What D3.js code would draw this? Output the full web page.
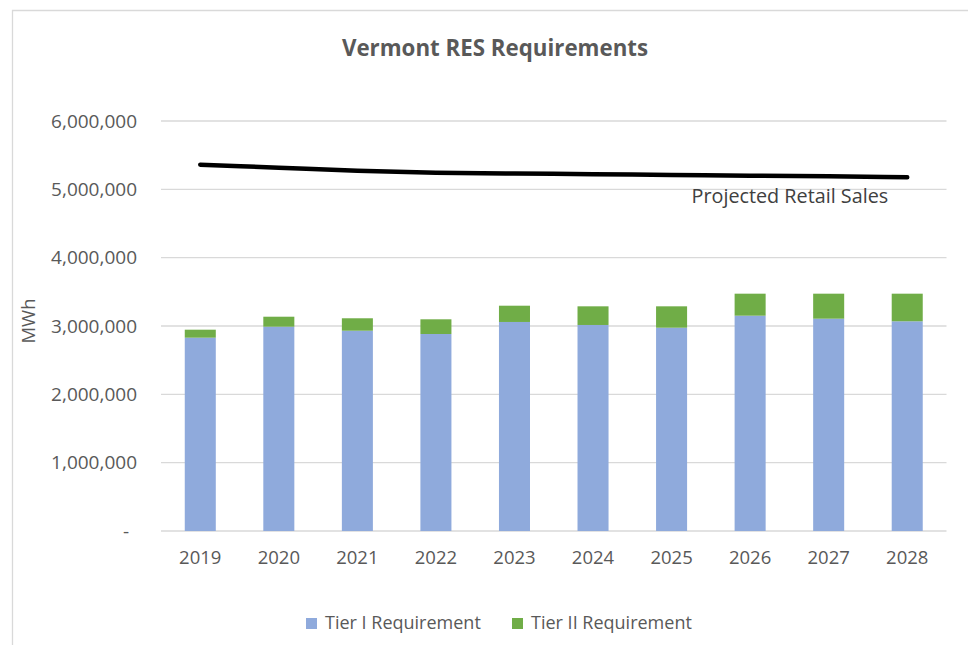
<!DOCTYPE html>
<html>
<head>
<meta charset="utf-8">
<script src="https://cdn.jsdelivr.net/npm/d3@7"></script>
<style>
  body { margin: 0; background: #fff; }
  text { font-family: "Open Sans", sans-serif; }
</style>
</head>
<body>
<svg id="chart" width="968" height="645"></svg>
<script>
// data
const years = ["2019", "2020", "2021", "2022", "2023", "2024", "2025", "2026", "2027", "2028"];
const tier1 = [2829000, 2990000, 2931000, 2883000, 3059000, 3015000, 2975000, 3151000, 3107000, 3069000];
const tier2 = [117000, 146000, 182000, 215000, 238000, 273000, 313000, 322000, 366000, 404000];
const retailSales = [5361000, 5317000, 5273000, 5244000, 5232000, 5222000, 5210000, 5200000, 5191000, 5176000];
const yTicks = [0, 1000000, 2000000, 3000000, 4000000, 5000000, 6000000];
const seriesNames = ["Tier I Requirement", "Tier II Requirement"];

const colors = ["#8FAADC", "#70AD47"];
const gridColor = "#d9d9d9";
const textColor = "#595959";

const svg = d3.select("#chart");

// outer chart border (left + top visible)
svg.append("path")
    .attr("d", "M12.5,645 V10.5 H968")
    .attr("fill", "none")
    .attr("stroke", gridColor)
    .attr("stroke-width", 1.3);

const x = d3.scaleBand()
    .domain(years)
    .range([161, 946.5])
    .paddingInner(0.605)
    .paddingOuter(0.3025);

const y = d3.scaleLinear()
    .domain([0, 6000000])
    .range([531, 121]);

// gridlines
svg.append("g")
    .selectAll("line")
    .data(yTicks)
    .enter()
    .append("line")
    .attr("x1", 161)
    .attr("x2", 946.5)
    .attr("y1", d => y(d))
    .attr("y2", d => y(d))
    .attr("stroke", gridColor)
    .attr("stroke-width", 1.3);

// y axis labels
const yAxis = svg.append("g")
    .attr("transform", "translate(137,0)")
    .call(d3.axisLeft(y).tickValues(yTicks).tickSize(0).tickPadding(0)
        .tickFormat(d => d === 0 ? "-" : d3.format(",")(d)));
yAxis.select(".domain").remove();
yAxis.selectAll("text")
    .attr("font-family", "Open Sans")
    .attr("font-size", 19)
    .attr("fill", textColor)
    .attr("dx", d => d === 0 ? -8 : 0);

// x axis labels
const xAxis = svg.append("g")
    .attr("transform", "translate(0,531)")
    .call(d3.axisBottom(x).tickSize(0).tickPadding(20));
xAxis.select(".domain").remove();
xAxis.selectAll("text")
    .attr("font-family", "Open Sans")
    .attr("font-size", 18.5)
    .attr("fill", textColor);

// stacked bars
const rows = years.map((yr, i) => ({ year: yr, t1: tier1[i], t2: tier2[i] }));
const stacked = d3.stack().keys(["t1", "t2"])(rows);

svg.append("g")
    .selectAll("g")
    .data(stacked)
    .enter()
    .append("g")
    .attr("fill", (s, i) => colors[i])
    .selectAll("rect")
    .data(s => s)
    .enter()
    .append("rect")
    .attr("x", d => x(d.data.year))
    .attr("width", x.bandwidth())
    .attr("y", d => y(d[1]))
    .attr("height", d => y(d[0]) - y(d[1]));

// projected retail sales line
const line = d3.line()
    .x((d, i) => x(years[i]) + x.bandwidth() / 2)
    .y(d => y(d))
    .curve(d3.curveMonotoneX);

svg.append("path")
    .datum(retailSales)
    .attr("d", line)
    .attr("fill", "none")
    .attr("stroke", "#000")
    .attr("stroke-width", 4.5)
    .attr("stroke-linecap", "round");

const last = retailSales.length - 1;
svg.append("text")
    .attr("x", x(years[last]) + x.bandwidth() / 2 - 19)
    .attr("y", y(retailSales[last]) + 26)
    .attr("text-anchor", "end")
    .attr("font-size", 19.8)
    .attr("fill", "#404040")
    .text("Projected Retail Sales");

// y axis title
svg.append("text")
    .attr("transform", "translate(35,321) rotate(-90)")
    .attr("text-anchor", "middle")
    .attr("font-size", 18.5)
    .attr("fill", textColor)
    .text("MWh");

// chart title
svg.append("text")
    .attr("x", 495)
    .attr("y", 56)
    .attr("text-anchor", "middle")
    .attr("font-size", 22.3)
    .attr("font-weight", "bold")
    .attr("fill", textColor)
    .text("Vermont RES Requirements");

// legend
const legendX = [306, 512];
const legend = svg.append("g")
    .selectAll("g")
    .data(seriesNames)
    .enter()
    .append("g")
    .attr("transform", (d, i) => "translate(" + legendX[i] + ",618)");

legend.append("rect")
    .attr("width", 11)
    .attr("height", 11)
    .attr("fill", (d, i) => colors[i]);

legend.append("text")
    .attr("x", 19)
    .attr("y", 11)
    .attr("font-size", 18)
    .attr("fill", textColor)
    .text(d => d);
</script>
</body>
</html>
